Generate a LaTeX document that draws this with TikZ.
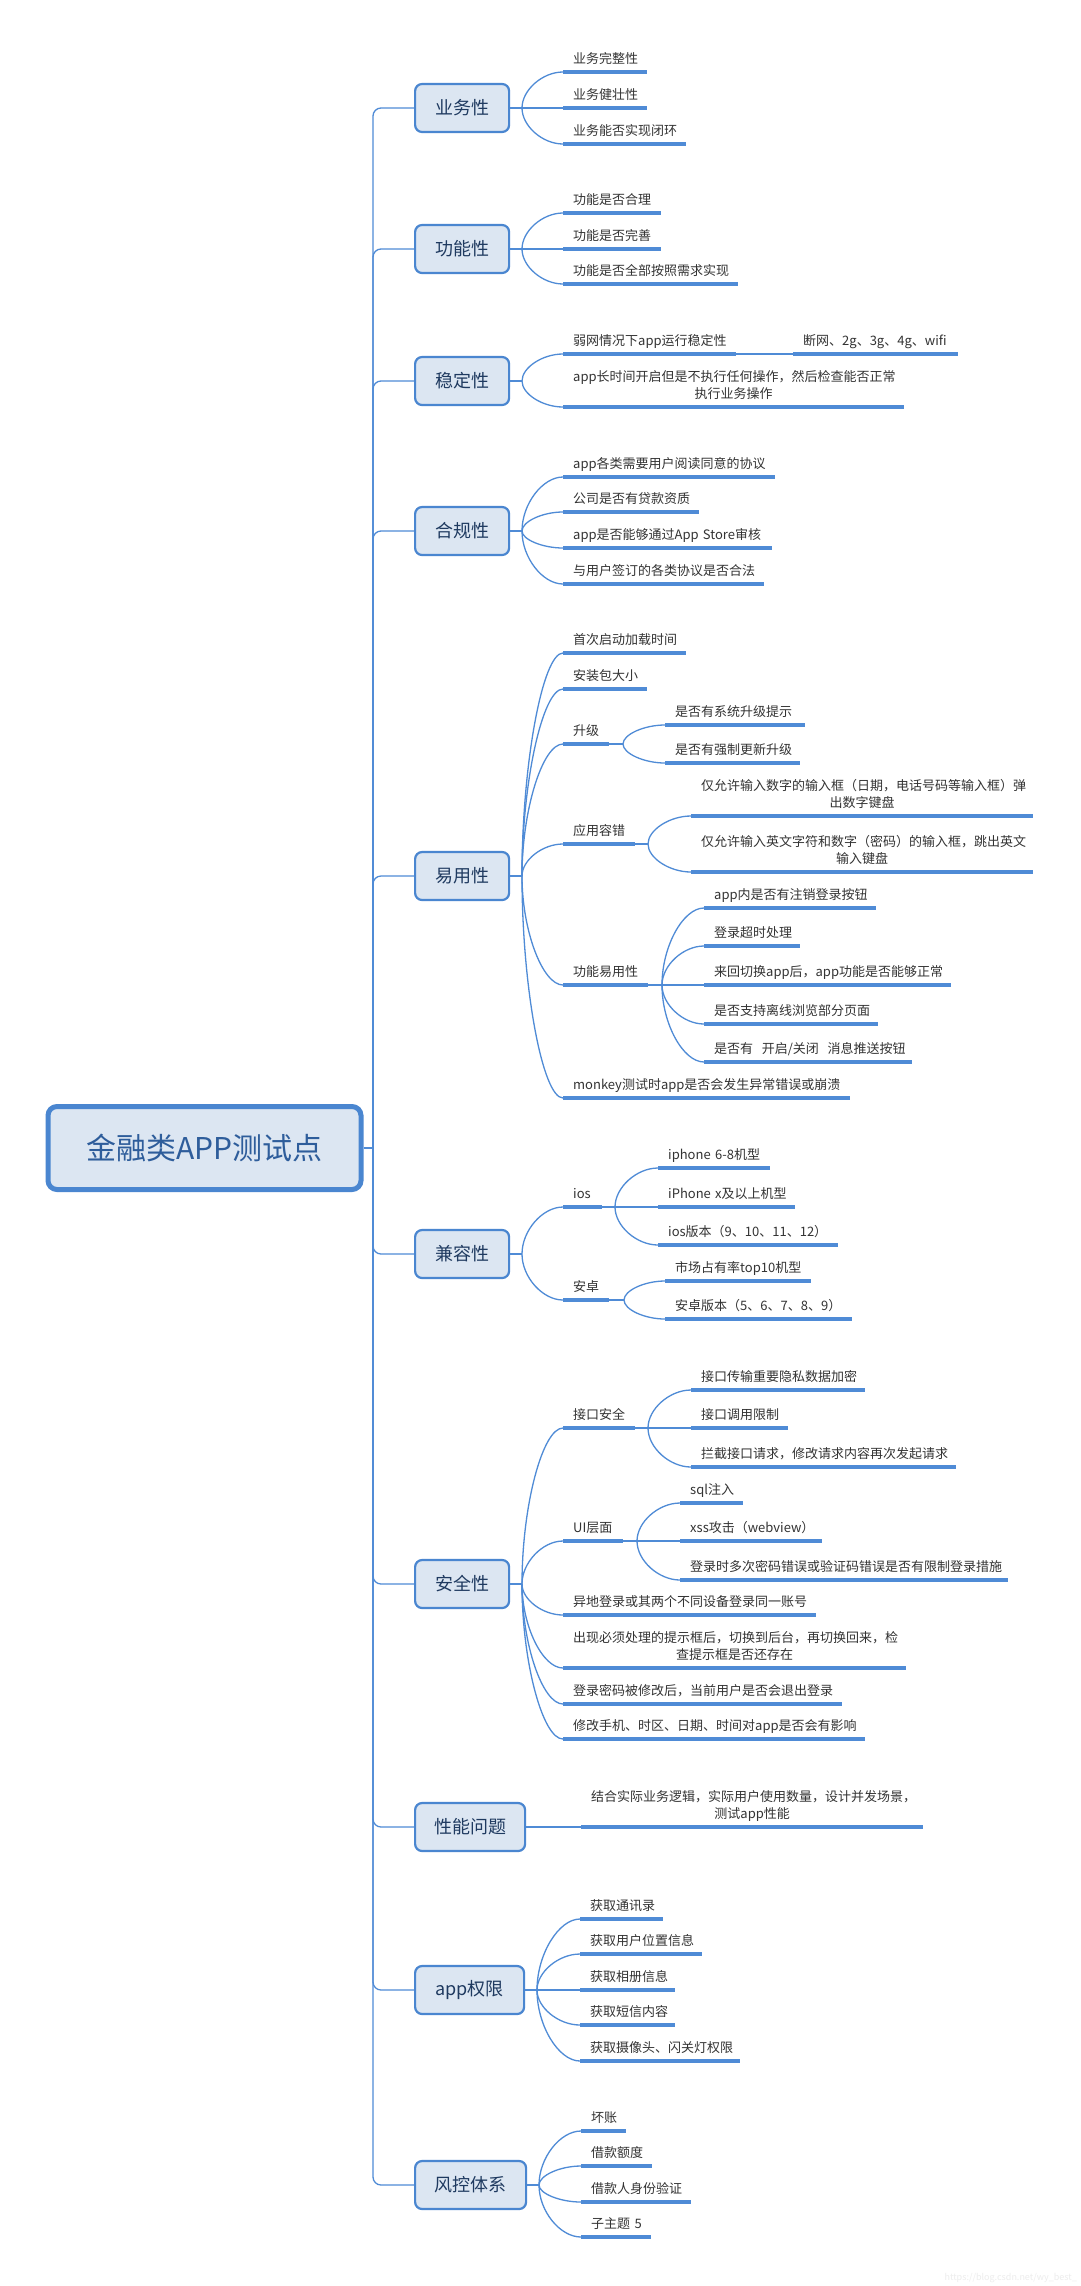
\documentclass[tikz,border=0pt]{standalone}
\usepackage{fontspec}
\setmainfont{Noto Sans CJK SC}
\usetikzlibrary{calc}
\definecolor{lineblue}{HTML}{4F8BD6}
\definecolor{boxfill}{HTML}{DCE6F2}
\definecolor{boxdraw}{HTML}{4A86D0}
\definecolor{topictext}{HTML}{1F3A60}
\definecolor{roottext}{HTML}{2E5D9B}
\definecolor{leaftext}{HTML}{333333}
\newcommand\leaf[5]{\pgfmathsetmacro\lw{#4-#2-20}\node[leaf,text width=\lw pt] (#1) at (#2,#3) {\mbox{#5}};}
\newcommand\leafm[5]{\pgfmathsetmacro\lw{#4-#2-20}\node[leafm,text width=\lw pt] (#1) at (#2,#3) {#5\rule[-3.5pt]{0pt}{0pt}};}
\begin{document}
\begin{tikzpicture}[x=1pt,y=-1pt,
  rootbox/.style={draw=boxdraw,fill=boxfill,line width=5pt,rounded corners=9pt,
    minimum width=313pt,minimum height=83pt,text=roottext,
    font=\fontsize{30pt}{36pt}\selectfont},
  topic/.style={draw=boxdraw,fill=boxfill,line width=2.2pt,rounded corners=7pt,
    minimum height=48pt,minimum width=94pt,inner xsep=4pt,anchor=west,text=topictext,
    font=\fontsize{18pt}{22pt}\selectfont},
  leaf/.style={anchor=south west,inner xsep=10pt,inner ysep=5pt,align=left,
    text height=10pt,text depth=3.5pt,text=leaftext,font=\fontsize{13pt}{17pt}\selectfont},
  leafm/.style={anchor=south west,inner xsep=10pt,inner ysep=5pt,align=center,
    text=leaftext,font=\fontsize{13pt}{17pt}\selectfont},
  conn/.style={draw=lineblue,line width=1.3pt},
  uline/.style={draw=lineblue,line width=3.5pt},
  fan/.style={to path={.. controls ($(\tikztostart)!0.5!(\tikztostart|-\tikztotarget)$) and ($(\tikztostart|-\tikztotarget)!0.5!(\tikztotarget)$) .. (\tikztotarget)}}
]
\useasboundingbox[fill=white] (0,0) rectangle (1080,2286);

% root
\node[rootbox] (root) at (204.5,1148) {金融类APP测试点};
\coordinate (hub) at (373,1148);

% topics
\node[topic] (t1) at (414,108) {业务性};
\node[topic] (t2) at (414,249) {功能性};
\node[topic] (t3) at (414,381) {稳定性};
\node[topic] (t4) at (414,531) {合规性};
\node[topic] (t5) at (414,876) {易用性};
\node[topic] (t6) at (414,1254) {兼容性};
\node[topic] (t7) at (414,1584) {安全性};
\node[topic,minimum width=110pt] (t8) at (414,1827) {性能问题};
\node[topic,minimum width=109pt] (t9) at (414,1990) {app权限};
\node[topic,minimum width=111pt] (t10) at (414,2185) {风控体系};

\draw[conn] (root.east) -- (hub);
\foreach \t in {t1,t2,t3,t4,t5,t6,t7,t8,t9,t10}
  \draw[conn,rounded corners=8pt] (hub) |- (\t.west);

% forks
\coordinate (f1) at (522,108);
\coordinate (f2) at (522,249);
\coordinate (f3) at (522,381);
\coordinate (f4) at (522,531);
\coordinate (f5) at (522,876);
\coordinate (f6) at (522,1254);
\coordinate (f7) at (522,1584);
\coordinate (f9) at (537,1990);
\coordinate (f10) at (539,2185);

% 业务性
\leaf{a1}{563}{72}{647}{业务完整性}
\leaf{a2}{563}{108}{647}{业务健壮性}
\leaf{a3}{563}{144}{686}{业务能否实现闭环}
% 功能性
\leaf{b1}{563}{213}{661}{功能是否合理}
\leaf{b2}{563}{249}{661}{功能是否完善}
\leaf{b3}{563}{284}{738}{功能是否全部按照需求实现}
% 稳定性
\leaf{c1}{563}{354}{736}{弱网情况下app运行稳定性}
\leaf{c1a}{793}{354}{958}{断网、2g、3g、4g、wifi}
\leafm{c2}{563}{407}{904}{app长时间开启但是不执行任何操作，然后检查能否正常\\执行业务操作}
% 合规性
\leaf{d1}{563}{477}{775}{app各类需要用户阅读同意的协议}
\leaf{d2}{563}{512}{699}{公司是否有贷款资质}
\leaf{d3}{563}{548}{772}{app是否能够通过App Store审核}
\leaf{d4}{563}{584}{764}{与用户签订的各类协议是否合法}
% 易用性
\leaf{e1}{563}{653}{686}{首次启动加载时间}
\leaf{e2}{563}{689}{647}{安装包大小}
\leaf{e3}{563}{744}{609}{升级}
\leaf{e3a}{665}{725}{805}{是否有系统升级提示}
\leaf{e3b}{665}{763}{800}{是否有强制更新升级}
\leaf{e4}{563}{844}{635}{应用容错}
\leafm{e4a}{691}{816}{1033}{仅允许输入数字的输入框（日期，电话号码等输入框）弹\\出数字键盘}
\leafm{e4b}{691}{872}{1033}{仅允许输入英文字符和数字（密码）的输入框，跳出英文\\输入键盘}
\leaf{e5}{563}{985}{648}{功能易用性}
\leaf{e5a}{704}{908}{876}{app内是否有注销登录按钮}
\leaf{e5b}{704}{946}{800}{登录超时处理}
\leaf{e5c}{704}{985}{951}{来回切换app后，app功能是否能够正常}
\leaf{e5d}{704}{1024}{878}{是否支持离线浏览部分页面}
\leaf{e5e}{704}{1062}{912}{是否有\ \ 开启/关闭\ \ 消息推送按钮}
\leaf{e6}{563}{1098}{850}{monkey测试时app是否会发生异常错误或崩溃}
% 兼容性
\leaf{g1}{563}{1207}{602}{ios}
\leaf{g1a}{658}{1168}{770}{iphone 6-8机型}
\leaf{g1b}{658}{1207}{795}{iPhone x及以上机型}
\leaf{g1c}{658}{1245}{838}{ios版本（9、10、11、12）}
\leaf{g2}{563}{1300}{609}{安卓}
\leaf{g2a}{665}{1281}{811}{市场占有率top10机型}
\leaf{g2b}{665}{1319}{852}{安卓版本（5、6、7、8、9）}
% 安全性
\leaf{h1}{563}{1428}{635}{接口安全}
\leaf{h1a}{691}{1390}{865}{接口传输重要隐私数据加密}
\leaf{h1b}{691}{1428}{788}{接口调用限制}
\leaf{h1c}{691}{1467}{956}{拦截接口请求，修改请求内容再次发起请求}
\leaf{h2}{563}{1541}{623}{UI层面}
\leaf{h2a}{680}{1503}{743}{sql注入}
\leaf{h2b}{680}{1541}{822}{xss攻击（webview）}
\leaf{h2c}{680}{1580}{1008}{登录时多次密码错误或验证码错误是否有限制登录措施}
\leaf{h3}{563}{1615}{816}{异地登录或其两个不同设备登录同一账号}
\leafm{h4}{563}{1668}{906}{出现必须处理的提示框后，切换到后台，再切换回来，检\\查提示框是否还存在}
\leaf{h5}{563}{1704}{842}{登录密码被修改后，当前用户是否会退出登录}
\leaf{h6}{563}{1739}{865}{修改手机、时区、日期、时间对app是否会有影响}
% 性能问题
\leafm{i1}{581}{1827}{923}{结合实际业务逻辑，实际用户使用数量，设计并发场景，\\测试app性能}
% app权限
\leaf{j1}{580}{1919}{663}{获取通讯录}
\leaf{j2}{580}{1954}{702}{获取用户位置信息}
\leaf{j3}{580}{1990}{675}{获取相册信息}
\leaf{j4}{580}{2025}{675}{获取短信内容}
\leaf{j5}{580}{2061}{740}{获取摄像头、闪关灯权限}
% 风控体系
\leaf{k1}{581}{2131}{626}{坏账}
\leaf{k2}{581}{2166}{652}{借款额度}
\leaf{k3}{581}{2202}{691}{借款人身份验证}
\leaf{k4}{581}{2237}{651}{子主题 5}

% sub forks
\coordinate (e3f) at (623,744);
\coordinate (e4f) at (648,844);
\coordinate (e5f) at (662,985);
\coordinate (g1f) at (615,1207);
\coordinate (g2f) at (624,1300);
\coordinate (h1f) at (648,1428);
\coordinate (h2f) at (637,1541);

% topic to fork
\foreach \t/\f in {t1/f1,t2/f2,t3/f3,t4/f4,t5/f5,t6/f6,t7/f7,t9/f9,t10/f10}
  \draw[conn] (\t.east) -- (\f);
\draw[conn] (t8.east) -- (i1.south west);

% fans
\foreach \f/\n in {f1/a1,f1/a2,f1/a3,f2/b1,f2/b2,f2/b3,f3/c1,f3/c2,
  f4/d1,f4/d2,f4/d3,f4/d4,f5/e1,f5/e2,f5/e3,f5/e4,f5/e5,f5/e6,
  e3f/e3a,e3f/e3b,e4f/e4a,e4f/e4b,e5f/e5a,e5f/e5b,e5f/e5c,e5f/e5d,e5f/e5e,
  f6/g1,f6/g2,g1f/g1a,g1f/g1b,g1f/g1c,g2f/g2a,g2f/g2b,
  f7/h1,f7/h2,f7/h3,f7/h4,f7/h5,f7/h6,h1f/h1a,h1f/h1b,h1f/h1c,h2f/h2a,h2f/h2b,h2f/h2c,
  f9/j1,f9/j2,f9/j3,f9/j4,f9/j5,f10/k1,f10/k2,f10/k3,f10/k4}
  \draw[conn] (\f) to[fan] (\n.south west);

% leaf to sub fork
\foreach \n/\f in {e3/e3f,e4/e4f,e5/e5f,g1/g1f,g2/g2f,h1/h1f,h2/h2f}
  \draw[conn] (\n.south east) -- (\f);
\draw[conn] (c1.south east) -- (c1a.south west);

% underlines
\foreach \n in {a1,a2,a3,b1,b2,b3,c1,c1a,c2,d1,d2,d3,d4,e1,e2,e3,e3a,e3b,e4,e4a,e4b,
  e5,e5a,e5b,e5c,e5d,e5e,e6,g1,g1a,g1b,g1c,g2,g2a,g2b,h1,h1a,h1b,h1c,h2,h2a,h2b,h2c,
  h3,h4,h5,h6,i1,j1,j2,j3,j4,j5,k1,k2,k3,k4}
  \draw[uline] (\n.south west) -- (\n.south east);

% watermark
\node[anchor=east,text=black!7,font=\fontsize{9pt}{10pt}\selectfont,inner sep=0pt] (wm) at (1077,2278) {https://blog.csdn.net/wy\_best\_};
\end{tikzpicture}
\end{document}
